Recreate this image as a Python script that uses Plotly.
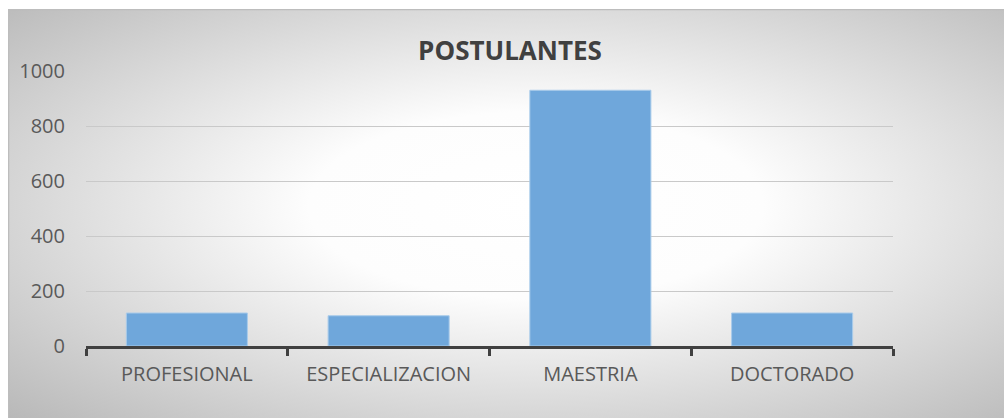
import base64
import plotly.graph_objects as go

# Data
categories = ["PROFESIONAL", "ESPECIALIZACION", "MAESTRIA", "DOCTORADO"]
postulantes = [120, 110, 930, 120]
y_ticks = [0, 200, 400, 600, 800, 1000]

W, H = 1004, 418
# plot area in pixels
L, R, T, B = 86, 893, 71, 346

# radial gradient chart background with a thin border on top/left
svg = f"""<svg xmlns='http://www.w3.org/2000/svg' width='996' height='409' viewBox='0 0 996 409' preserveAspectRatio='none'>
<defs><radialGradient id='g' cx='0.53' cy='0.48' r='0.76' fx='0.53' fy='0.48'>
<stop offset='0' stop-color='#ffffff'/>
<stop offset='0.3' stop-color='#fdfdfd'/>
<stop offset='1' stop-color='#b6b6b6'/>
</radialGradient></defs>
<rect x='0' y='0' width='996' height='409' fill='url(#g)'/>
<line x1='0' y1='0.5' x2='996' y2='0.5' stroke='#bdbdbd' stroke-width='1.5'/>
<line x1='0.5' y1='0' x2='0.5' y2='409' stroke='#bdbdbd' stroke-width='1.5'/>
</svg>"""
src = "data:image/svg+xml;base64," + base64.b64encode(svg.encode()).decode()

pw, ph = R - L, B - T
bg_x0, bg_y0 = 8, 9
img = dict(
    source=src, xref="paper", yref="paper",
    x=(bg_x0 - L) / pw, y=(B - bg_y0) / ph,
    sizex=(W - bg_x0) / pw, sizey=(H - bg_y0) / ph,
    xanchor="left", yanchor="top", sizing="stretch", layer="below",
)

fig = go.Figure(go.Bar(
    x=categories, y=postulantes,
    marker=dict(color="#6FA7DB", line=dict(color="#A9CBEA", width=1)),
))

font = "Open Sans"
fig.update_layout(
    width=W, height=H,
    margin=dict(l=L, r=W - R, t=T, b=H - B),
    paper_bgcolor="white", plot_bgcolor="rgba(0,0,0,0)",
    images=[img],
    bargap=0.4,
    showlegend=False,
    title=dict(text="<b>POSTULANTES</b>", x=510 / W, xanchor="center",
               y=1 - 51 / H, yanchor="middle",
               font=dict(family=font, size=26, color="#404040")),
    xaxis=dict(
        showline=True, linecolor="#404040", linewidth=3,
        ticks="outside", tickson="boundaries", ticklen=7, tickwidth=3,
        tickcolor="#404040", showgrid=False,
        tickfont=dict(family=font, size=20, color="#595959"),
        ticklabelstandoff=8,
    ),
    yaxis=dict(
        range=[0, 1000], tickvals=y_ticks, showline=False, zeroline=False,
        showgrid=True, gridcolor="#C9C9C9", gridwidth=1.3,
        tickfont=dict(family=font, size=20, color="#595959"),
        ticklabelstandoff=20,
    ),
)

fig.write_html("out.html")
